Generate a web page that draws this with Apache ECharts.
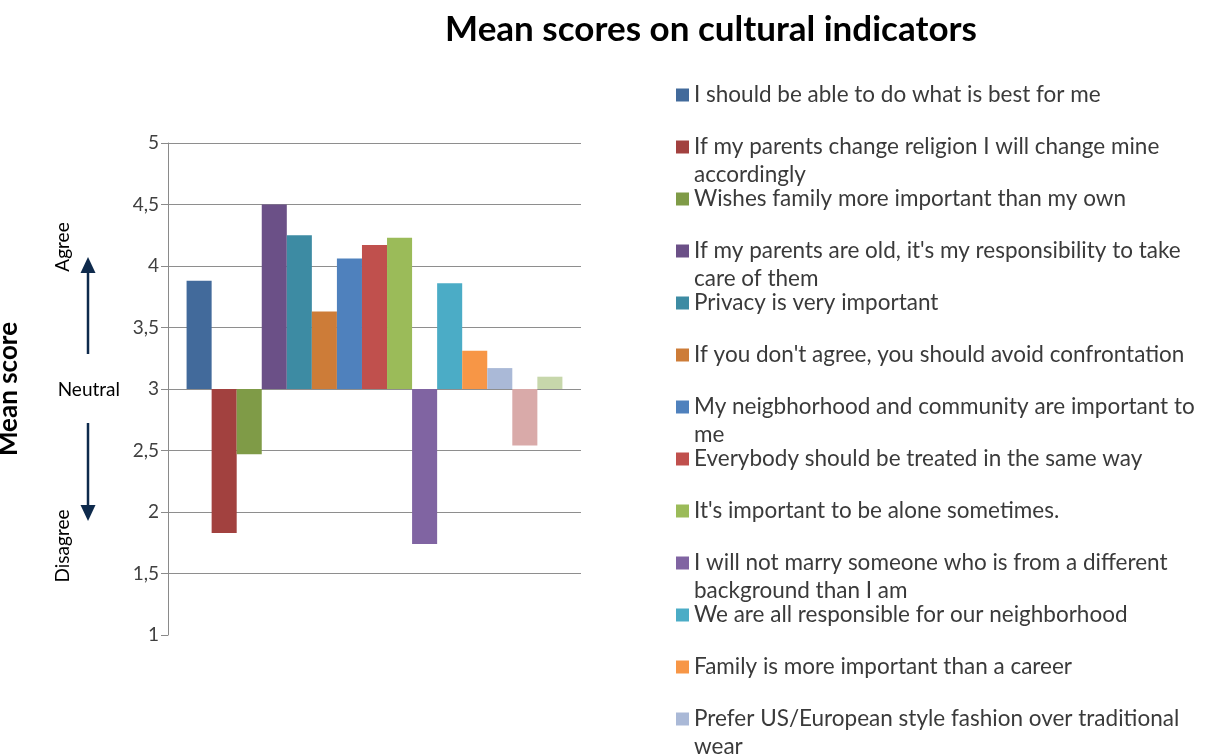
<!DOCTYPE html>
<html>
<head>
<meta charset="utf-8">
<script src="https://cdn.jsdelivr.net/npm/echarts@6/dist/echarts.min.js"></script>
<style>
  html, body { margin: 0; padding: 0; background: #ffffff; }
  #chart { width: 1206px; height: 755px; }
</style>
</head>
<body>
<div id="chart"></div>
<script>
// Cultural indicator statements (one bar each)
const statements = [
  "I should be able to do what is best for me",
  "If my parents change religion I will change mine accordingly",
  "Wishes family more important than my own",
  "If my parents are old, it's my responsibility to take care of them",
  "Privacy is very important",
  "If you don't agree, you should avoid confrontation",
  "My neigbhorhood and community are important to me",
  "Everybody should be treated in the same way",
  "It's important to be alone sometimes.",
  "I will not marry someone who is from a different background than I am",
  "We are all responsible for our neighborhood",
  "Family is more important than a career",
  "Prefer US/European style fashion over traditional wear",
  "Statement 14",
  "Statement 15"
];

// Mean score per statement (1 = disagree, 3 = neutral, 5 = agree)
const meanScores = [3.88, 1.83, 2.47, 4.50, 4.25, 3.63, 4.06, 4.17, 4.23, 1.74, 3.86, 3.31, 3.17, 2.54, 3.10];

const barColors = [
  "#426A9B", "#A2413F", "#7F9B47", "#6B5087", "#3D8BA3",
  "#CD7C38", "#4F81BD", "#C0504D", "#9BBB59", "#8064A2",
  "#4BACC6", "#F79646", "#AAB9D7", "#D9AAA9", "#C7D7AB"
];

// Score scale
const neutralScore = 3;
const scaleMin = 1;
const scaleMax = 5;
const scaleStep = 0.5;

// Bars grow up or down from the neutral score, so values are plotted relative to it
const series = statements.map((name, i) => ({
  type: "bar",
  name: name,
  data: [meanScores[i] - neutralScore],
  itemStyle: { color: barColors[i] },
  barGap: "0%",
  barCategoryGap: "9%"
}));

// Legend: one entry per row at a fixed pitch; long statements wrap onto a
// second line that hangs below the swatch (rich-text box of one line height).
const legendTop = 81;
const legendPitch = 52;
const legendLineHeight = 28;
const legends = statements.map((name, i) => ({
  orient: "vertical",
  left: 676,
  top: legendTop + i * legendPitch,
  padding: 0,
  itemWidth: 13,
  itemHeight: 13,
  icon: "rect",
  selectedMode: false,
  data: [name],
  textStyle: {
    fontFamily: "Lato",
    fontSize: 22.5,
    color: "#3A3A3A",
    width: 512,
    height: legendLineHeight,
    lineHeight: legendLineHeight,
    overflow: "break",
    rich: { t: {} }
  }
}));

const chart = echarts.init(document.getElementById("chart"), null, { renderer: "canvas" });

const arrowColor = "#0E2A4C";
const sideLabelStyle = { fontFamily: "Lato", fontSize: 19, fill: "#000000", verticalAlign: "middle" };

chart.setOption({
  animation: false,
  textStyle: { fontFamily: "Lato" },
  title: {
    text: "Mean scores on cultural indicators",
    left: 711,
    top: 12,
    padding: 0,
    textAlign: "center",
    textStyle: { fontFamily: "Lato", fontSize: 35, fontWeight: "bold", color: "#000000" }
  },
  legend: legends,
  grid: { left: 168, right: 625, top: 143, bottom: 120, containLabel: false, outerBoundsMode: "none" },
  xAxis: {
    type: "category",
    data: [""],
    axisLine: { show: false },
    axisTick: { show: false },
    axisLabel: { show: false },
    splitLine: { show: false }
  },
  yAxis: {
    type: "value",
    min: scaleMin - neutralScore,
    max: scaleMax - neutralScore,
    interval: scaleStep,
    name: "Mean score",
    nameLocation: "middle",
    nameRotate: 90,
    nameGap: 146,
    nameTextStyle: { fontFamily: "Lato", fontSize: 26, fontWeight: "bold", color: "#000000" },
    axisLine: { show: true, lineStyle: { color: "#8A8A8A", width: 1 } },
    axisTick: { show: true, length: 7, lineStyle: { color: "#8A8A8A" } },
    axisLabel: {
      fontSize: 19,
      color: "#404040",
      margin: 9,
      formatter: v => String(Math.round((v + neutralScore) * 10) / 10).replace(".", ",")
    },
    splitLine: { show: true, showMinLine: false, lineStyle: { color: "#8E8E8E", width: 1 } }
  },
  graphic: [
    { type: "text", x: 63, y: 247, rotation: Math.PI / 2,
      style: Object.assign({ text: "Agree", align: "center" }, sideLabelStyle) },
    { type: "text", x: 120, y: 390,
      style: Object.assign({ text: "Neutral", align: "right" }, sideLabelStyle) },
    { type: "text", x: 63, y: 546, rotation: Math.PI / 2,
      style: Object.assign({ text: "Disagree", align: "center" }, sideLabelStyle) },
    // "Agree" arrow
    { type: "line", shape: { x1: 88, y1: 354, x2: 88, y2: 271 }, style: { stroke: arrowColor, lineWidth: 2.5 } },
    { type: "polygon", shape: { points: [[88, 257], [80.5, 273], [95.5, 273]] }, style: { fill: arrowColor } },
    // "Disagree" arrow
    { type: "line", shape: { x1: 88, y1: 423, x2: 88, y2: 507 }, style: { stroke: arrowColor, lineWidth: 2.5 } },
    { type: "polygon", shape: { points: [[88, 521], [80.5, 505], [95.5, 505]] }, style: { fill: arrowColor } }
  ],
  series: series
});
</script>
</body>
</html>
